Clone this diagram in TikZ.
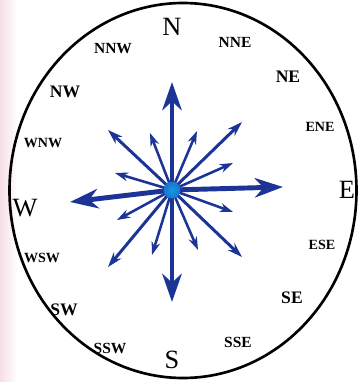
\documentclass[tikz,border=0pt]{standalone}
\usepackage{fontspec}
\setmainfont{Liberation Serif}
\usetikzlibrary{arrows.meta}
\definecolor{compassblue}{RGB}{28,52,150}
\definecolor{hubblue}{RGB}{25,115,205}
\definecolor{paperpink}{RGB}{246,222,230}
\tikzset{
  mainarrow/.style={compassblue, line width=2.8pt, -{Stealth[length=16pt, width=11pt, inset=5pt]}},
  diagarrow/.style={compassblue, line width=1.7pt, -{Stealth[length=8.5pt, width=5.5pt]}},
  minorarrow/.style={compassblue, line width=1.45pt, -{Stealth[length=7.5pt, width=5pt]}},
  bigdir/.style={font=\fontsize{15}{17}\selectfont},
  middir/.style={font=\fontsize{10}{12}\selectfont\bfseries},
  smalldir/.style={font=\fontsize{8.8}{10}\selectfont\bfseries},
  tinydir/.style={font=\fontsize{8}{9}\selectfont\bfseries}
}
\begin{document}
\begin{tikzpicture}[scale=1.0]
  \useasboundingbox (-3.44,-3.84) rectangle (3.76,3.8);
  \fill[white] (-3.44,-3.84) rectangle (3.76,3.8);
  \shade[left color=paperpink, right color=white] (-3.44,-3.84) rectangle (-3.1,3.8);
  \draw[line width=1.5pt] (0.22,-0.01) ellipse[x radius=3.47, y radius=3.75];
  \coordinate (O) at (0,0);
  % main directions
  \coordinate (tN) at (0,2.16);
  \coordinate (tS) at (0,-2.24);
  \coordinate (tE) at (2.22,0.06);
  \coordinate (tW) at (-2.04,-0.24);
  % diagonals
  \coordinate (tNE) at (1.4,1.36);
  \coordinate (tNW) at (-1.28,1.2);
  \coordinate (tSE) at (1.4,-1.34);
  \coordinate (tSW) at (-1.28,-1.54);
  % in between
  \coordinate (tNNE) at (0.5,1.18);
  \coordinate (tNNW) at (-0.44,1.14);
  \coordinate (tENE) at (1.22,0.54);
  \coordinate (tWNW) at (-1.14,0.34);
  \coordinate (tESE) at (1.22,-0.44);
  \coordinate (tWSW) at (-1.1,-0.6);
  \coordinate (tSSE) at (0.52,-1.2);
  \coordinate (tSSW) at (-0.4,-1.3);
  \draw[minorarrow] (O) -- (tNNE);
  \draw[minorarrow] (O) -- (tNNW);
  \draw[minorarrow] (O) -- (tENE);
  \draw[minorarrow] (O) -- (tWNW);
  \draw[minorarrow] (O) -- (tESE);
  \draw[minorarrow] (O) -- (tWSW);
  \draw[minorarrow] (O) -- (tSSE);
  \draw[minorarrow] (O) -- (tSSW);
  \draw[diagarrow] (O) -- (tNE);
  \draw[diagarrow] (O) -- (tNW);
  \draw[diagarrow] (O) -- (tSE);
  \draw[diagarrow] (O) -- (tSW);
  \draw[mainarrow] (O) -- (tN);
  \draw[mainarrow] (O) -- (tS);
  \draw[mainarrow] (O) -- (tE);
  \draw[mainarrow] (O) -- (tW);
  \shade[inner color=hubblue!70!cyan, outer color=hubblue] (O) circle (0.17);
  % labels
  \node[bigdir] (lN) at (0,3.26) {N};
  \node[bigdir] (lE) at (3.5,0) {E};
  \node[bigdir] (lS) at (0,-3.4) {S};
  \node[bigdir] (lW) at (-2.94,-0.36) {W};
  \node[middir] (lNE) at (2.32,2.26) {NE};
  \node[middir] (lSE) at (2.4,-2.16) {SE};
  \node[middir] (lSW) at (-2.16,-2.4) {SW};
  \node[middir] (lNW) at (-2.14,1.96) {NW};
  \node[smalldir] (lNNE) at (1.26,2.96) {NNE};
  \node[smalldir] (lNNW) at (-1.18,2.82) {NNW};
  \node[smalldir] (lSSE) at (1.32,-3.04) {SSE};
  \node[smalldir] (lSSW) at (-1.24,-3.16) {SSW};
  \node[tinydir] (lENE) at (2.96,1.26) {ENE};
  \node[tinydir] (lESE) at (3.0,-1.1) {ESE};
  \node[tinydir] (lWNW) at (-2.58,0.94) {WNW};
  \node[tinydir] (lWSW) at (-2.6,-1.36) {WSW};
\end{tikzpicture}
\end{document}
